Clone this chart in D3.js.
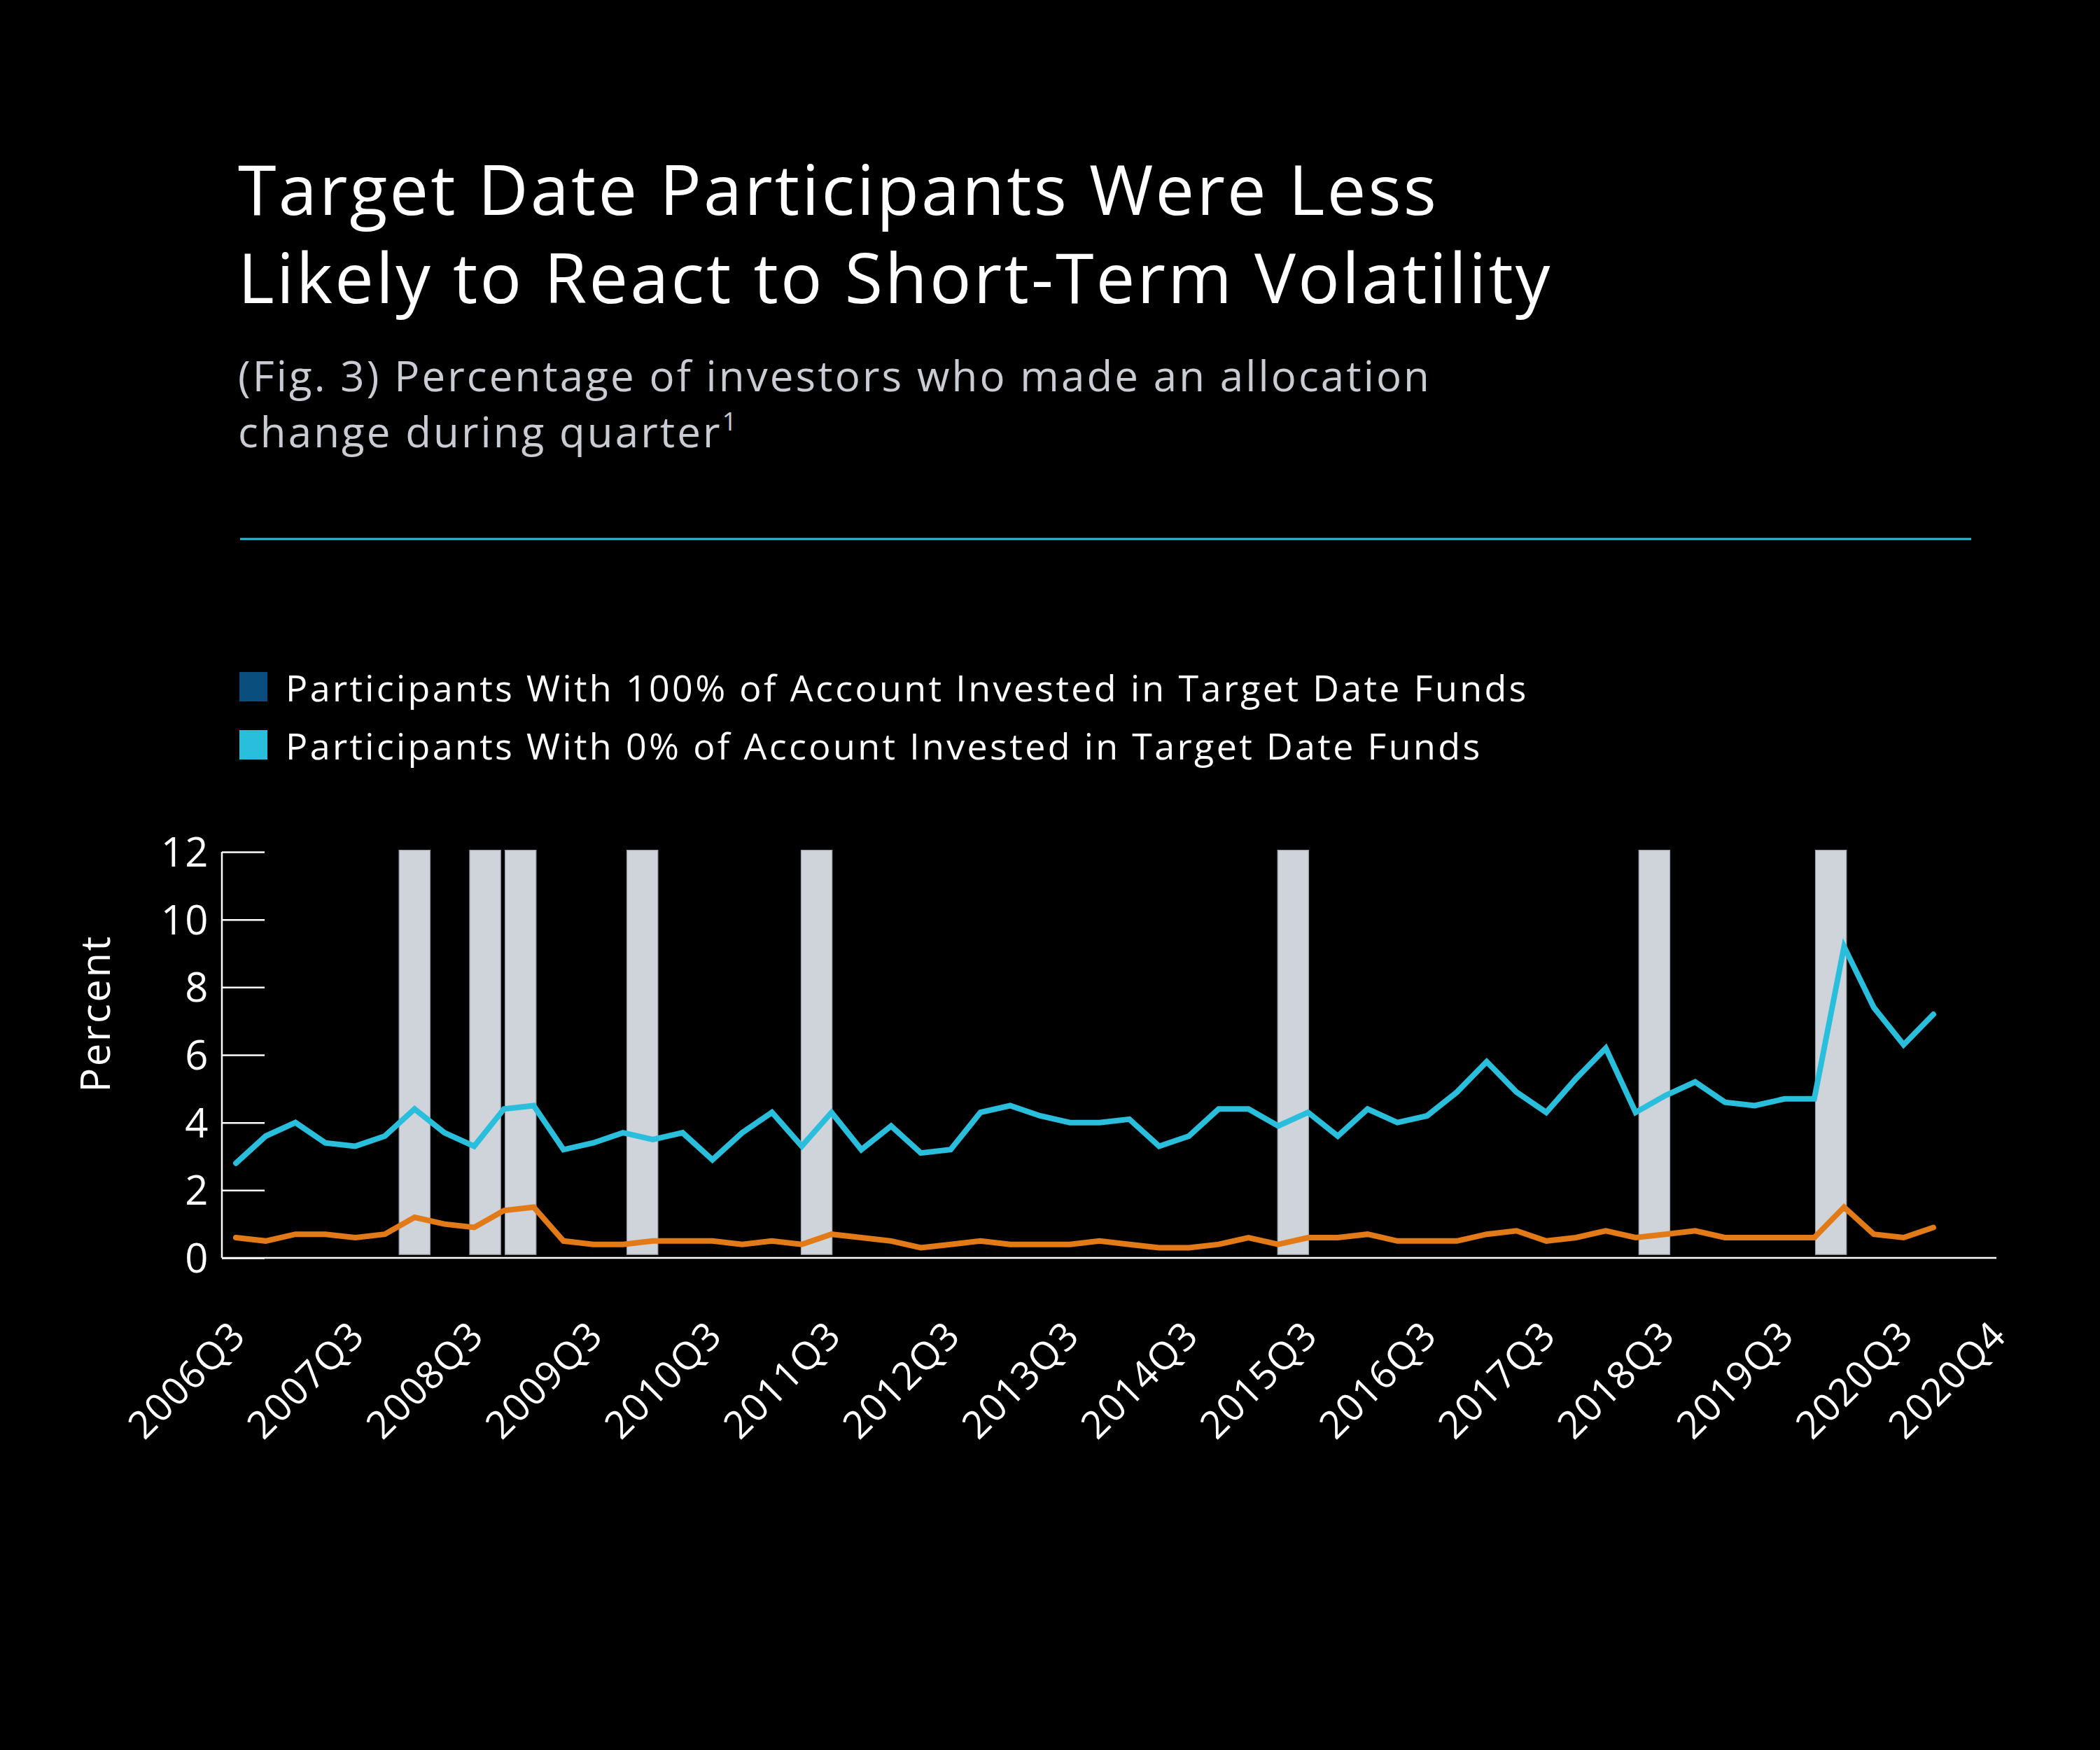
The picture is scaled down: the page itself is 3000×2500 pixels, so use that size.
<!DOCTYPE html>
<html>
<head>
<meta charset="utf-8">
<script src="https://cdn.jsdelivr.net/npm/d3@7"></script>
<style>
  html, body { margin: 0; padding: 0; background: #000; }
  svg { display: block; }
  text { font-family: "Open Sans", Lato, sans-serif; }
</style>
</head>
<body>
<svg id="chart" width="3000" height="2500"></svg>
<script>
// ---------------- DATA ----------------
const titleLines = ["Target Date Participants Were Less", "Likely to React to Short-Term Volatility"];
const subtitleLines = ["(Fig. 3) Percentage of investors who made an allocation", "change during quarter"];
const seriesNames = [
  "Participants With 100% of Account Invested in Target Date Funds",
  "Participants With 0% of Account Invested in Target Date Funds"
];
// quarterly observations, 2006Q3 ... 2020Q4
const pct100 = [0.6,0.5,0.7,0.7,0.6,0.7,1.2,1.0,0.9,1.4,1.5,0.5,0.4,0.4,0.5,0.5,0.5,0.4,0.5,0.4,
                0.7,0.6,0.5,0.3,0.4,0.5,0.4,0.4,0.4,0.5,0.4,0.3,0.3,0.4,0.6,0.4,0.6,0.6,0.7,0.5,
                0.5,0.5,0.7,0.8,0.5,0.6,0.8,0.6,0.7,0.8,0.6,0.6,0.6,0.6,1.5,0.7,0.6,0.9];
const pct0   = [2.8,3.6,4.0,3.4,3.3,3.6,4.4,3.7,3.3,4.4,4.5,3.2,3.4,3.7,3.5,3.7,2.9,3.7,4.3,3.3,
                4.3,3.2,3.9,3.1,3.2,4.3,4.5,4.2,4.0,4.0,4.1,3.3,3.6,4.4,4.4,3.9,4.3,3.6,4.4,4.0,
                4.2,4.9,5.8,4.9,4.3,5.3,6.2,4.3,4.8,5.2,4.6,4.5,4.7,4.7,9.2,7.4,6.3,7.2];
// short-term volatility events (centre, in quarters since 2006Q3)
const volatilityEvents = [6.0, 8.37, 9.56, 13.65, 19.5, 35.5, 47.63, 53.56];
const eventWidth = 1.04; // quarters
const xTickLabels = ["2006Q3","2007Q3","2008Q3","2009Q3","2010Q3","2011Q3","2012Q3","2013Q3",
                     "2014Q3","2015Q3","2016Q3","2017Q3","2018Q3","2019Q3","2020Q3","2020Q4"];
const yTicks = [0, 2, 4, 6, 8, 10, 12];
const yLabel = "Percent";

// ---------------- LAYOUT ----------------
const W = 3000, H = 2500;
const plotLeft = 317, plotRight = 2852, plotTop = 1217, plotBottom = 1797;
const colors = { c100: "#e27b17", c0: "#29bfdc", swatch100: "#0a4e7e", swatch0: "#29bfdc",
                 bar: "#cfd4db", barStroke: "#9ea4ab", text: "#ffffff", sub: "#c9ccd2" };

const svg = d3.select("#chart");
svg.append("rect").attr("width", W).attr("height", H).attr("fill", "#000");

// Title
const title = svg.append("text").attr("fill", colors.text).attr("font-size", 99)
  .attr("letter-spacing", 3.2);
titleLines.forEach((t, i) => title.append("tspan").attr("x", 340).attr("y", 307 + i * 126).text(t));

// Subtitle
const sub = svg.append("text").attr("fill", colors.sub).attr("font-size", 60)
  .attr("letter-spacing", 3.1);
sub.append("tspan").attr("x", 340).attr("y", 559).text(subtitleLines[0]);
sub.append("tspan").attr("x", 340).attr("y", 639).text(subtitleLines[1]);
sub.append("tspan").attr("font-size", 36).attr("dy", -24).text("1");

// Rule
svg.append("line").attr("x1", 343).attr("x2", 2816).attr("y1", 770).attr("y2", 770)
  .attr("stroke", colors.c0).attr("stroke-width", 3);

// Legend
const legendColors = [colors.swatch100, colors.swatch0];
seriesNames.forEach((n, i) => {
  const yb = 1002 + i * 83;
  svg.append("rect").attr("x", 342).attr("y", yb - 42).attr("width", 40).attr("height", 42)
    .attr("fill", legendColors[i]);
  svg.append("text").attr("x", 408).attr("y", yb).attr("fill", colors.text)
    .attr("font-size", 52).attr("letter-spacing", 3.35).text(n);
});

// Scales
const x = d3.scaleLinear().domain([0, pct0.length - 1]).range([337, 2762]);
const y = d3.scaleLinear().domain([0, 12]).range([plotBottom, plotTop]);

// Volatility bars
svg.append("g").selectAll("rect").data(volatilityEvents).join("rect")
  .attr("x", d => x(d - eventWidth / 2))
  .attr("width", d => x(d + eventWidth / 2) - x(d - eventWidth / 2))
  .attr("y", y(12.05))
  .attr("height", y(0.1) - y(12.05))
  .attr("fill", colors.bar)
  .attr("stroke", colors.barStroke).attr("stroke-width", 1.2);

// Y axis
const yAxis = svg.append("g").attr("transform", `translate(${plotLeft},0)`)
  .call(d3.axisRight(y).tickValues(yTicks).tickSize(61).tickFormat(""));
yAxis.select(".domain").remove();
yAxis.selectAll(".tick line").attr("stroke", "#fff").attr("stroke-width", 2.5);
svg.append("line").attr("x1", plotLeft).attr("x2", plotLeft).attr("y1", plotTop).attr("y2", plotBottom)
  .attr("stroke", "#fff").attr("stroke-width", 2.5);
svg.append("g").selectAll("text").data(yTicks).join("text")
  .attr("x", 299).attr("y", d => y(d)).attr("dy", "0.36em")
  .attr("text-anchor", "end").attr("fill", colors.text).attr("font-size", 58)
  .attr("letter-spacing", 1.5)
  .text(d => d);

svg.append("text").attr("transform", "translate(157,1448) rotate(-90)")
  .attr("text-anchor", "middle").attr("fill", colors.text).attr("font-size", 58)
  .attr("letter-spacing", 2.5).text(yLabel);

// X axis line
svg.append("line").attr("x1", plotLeft).attr("x2", plotRight).attr("y1", plotBottom).attr("y2", plotBottom)
  .attr("stroke", "#fff").attr("stroke-width", 2.5);

// X labels
svg.append("g").selectAll("text").data(xTickLabels).join("text")
  .attr("transform", (d, i) => {
    const px = i < xTickLabels.length - 1 ? x(i * 4) : plotRight;
    return `translate(${px + 17},${plotBottom + 114}) rotate(-45)`;
  })
  .attr("text-anchor", "end").attr("fill", colors.text).attr("font-size", 55)
  .attr("letter-spacing", 1.5)
  .text(d => d);

// Lines
const line = d3.line().x((d, i) => x(i)).y(d => y(d));
svg.append("path").datum(pct0).attr("d", line).attr("fill", "none")
  .attr("stroke", colors.c0).attr("stroke-width", 8)
  .attr("stroke-linejoin", "miter").attr("stroke-linecap", "round");
svg.append("path").datum(pct100).attr("d", line).attr("fill", "none")
  .attr("stroke", colors.c100).attr("stroke-width", 8)
  .attr("stroke-linejoin", "miter").attr("stroke-linecap", "round");
</script>
</body>
</html>
